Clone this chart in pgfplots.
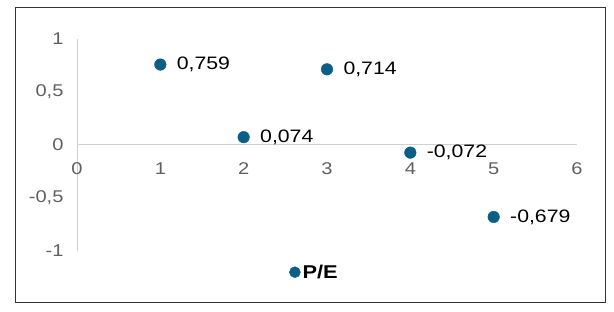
\documentclass[border=0pt]{standalone}
\usepackage{pgfplots}
\pgfplotsset{compat=1.18}
\usepackage{fontspec}
\setmainfont{Liberation Sans}[FakeStretch=1.18]
\definecolor{pt}{HTML}{0B5E85}
\definecolor{tk}{HTML}{5F5F5F}
\definecolor{ax}{HTML}{D0D0D0}
\begin{document}
\begin{tikzpicture}[x=1pt,y=1pt]
\path[use as bounding box] (0,0) rectangle (614,312);
\draw[color=black!80, line width=1pt] (15,9) rectangle (605,304);
\begin{axis}[
  at={(77pt,167pt)}, anchor=origin,
  scale only axis, width=500pt, height=212pt,
  xmin=0, xmax=6, ymin=-1, ymax=1,
  axis lines=middle,
  axis line style={-, color=ax, line width=1pt},
  hide obscured x ticks=false, hide obscured y ticks=false,
  major tick length=0pt,
  xtick={0,1,2,3,4,5,6},
  ytick={-1,-0.5,0,0.5,1},
  /pgf/number format/use comma,
  /pgf/number format/assume math mode=true,
  tick label style={font=\fontsize{17}{19}\selectfont, color=tk},
  xticklabel style={yshift=-14pt, anchor=north},
  yticklabel style={xshift=-10pt, anchor=east},
  clip=false,
  legend style={at={(0.475,-0.10)}, anchor=center, draw=none, fill=none,
    font=\fontsize{18.5}{20}\selectfont\bfseries, inner sep=0pt},
  legend image code/.code={\fill[pt] (0.1,0) circle (5.5pt);},
  legend cell align=left,
]
\addplot[only marks, mark=*, mark size=5.8pt, color=pt,
  nodes near coords, point meta=explicit symbolic,
  every node near coord/.style={anchor=west, xshift=13pt, color=black,
    font=\fontsize{18}{20}\selectfont}]
  table[meta=lab] {
x y lab
1 0.759 {0,759}
2 0.074 {0,074}
3 0.714 {0,714}
4 -0.072 {-0,072}
5 -0.679 {-0,679}
};
\addlegendentry{P/E}
\end{axis}
\end{tikzpicture}
\end{document}
